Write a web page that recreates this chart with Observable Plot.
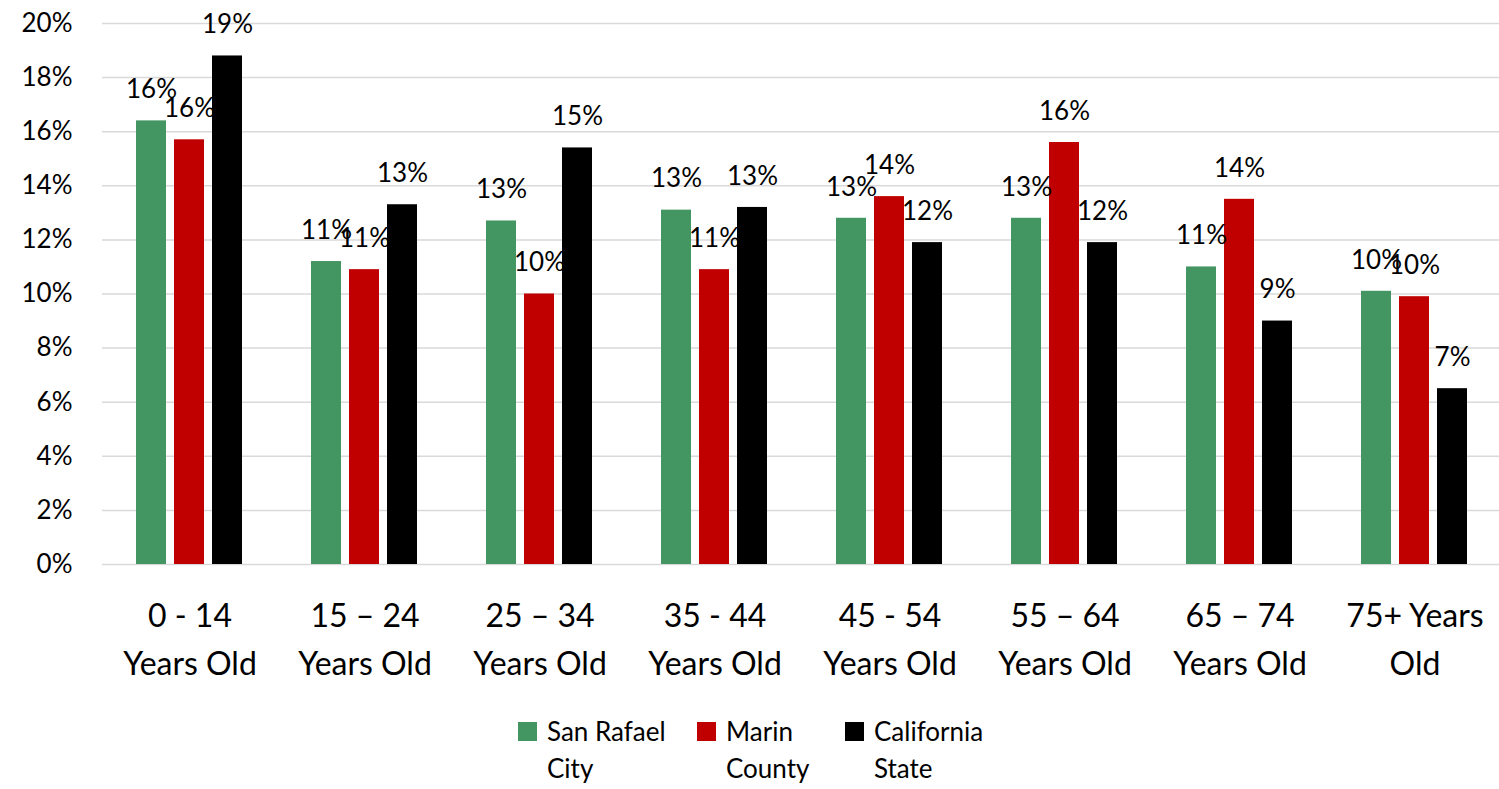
<!DOCTYPE html>
<html>
<head>
<meta charset="utf-8">
<script src="https://cdn.jsdelivr.net/npm/d3@7"></script>
<script src="https://cdn.jsdelivr.net/npm/@observablehq/plot@0.6"></script>
<style>
  html, body { margin: 0; padding: 0; background: #fff; overflow: hidden; }
  body { font-family: Lato, "Noto Sans", sans-serif; width: 1499px; height: 789px; }
  #chart svg { overflow: visible; display: block; }
  .legend { position: absolute; top: 713px; left: 518px; display: flex; font-size: 26px; color: #000; line-height: 37px; }
  .item { display: flex; align-items: flex-start; }
  .sw { width: 19px; height: 19px; margin-top: 9px; margin-right: 10px; flex: none; }
</style>
</head>
<body>
<div id="chart"></div>
<div class="legend" id="legend"></div>
<script>
const categories = ["0 - 14\nYears Old", "15 – 24\nYears Old", "25 – 34\nYears Old", "35 - 44\nYears Old", "45 - 54\nYears Old", "55 – 64\nYears Old", "65 – 74\nYears Old", "75+ Years\nOld"];
const series = ["San Rafael City", "Marin County", "California State"];
const seriesLegend = ["San Rafael<br>City", "Marin<br>County", "California<br>State"];
const colors = ["#439561", "#C00000", "#000000"];
const sanRafael = [16.4, 11.2, 12.7, 13.1, 12.8, 12.8, 11.0, 10.1];
const marin = [15.7, 10.9, 10.0, 10.9, 13.6, 15.6, 13.5, 9.9];
const california = [18.8, 13.3, 15.4, 13.2, 11.9, 11.9, 9.0, 6.5];
const yTicks = [0, 2, 4, 6, 8, 10, 12, 14, 16, 18, 20];

const valuesBySeries = [sanRafael, marin, california];
const data = [];
categories.forEach((c, i) => series.forEach((s, j) => data.push({cat: c, series: s, value: valuesBySeries[j][i]})));

const chart = Plot.plot({
  width: 1499,
  height: 700,
  marginLeft: 98,
  marginRight: -6,
  marginTop: 23,
  marginBottom: 136,
  style: {fontFamily: "Lato, 'Noto Sans', sans-serif", color: "#000", background: "#fff"},
  fx: {domain: categories, padding: 0, label: null},
  x: {domain: series, paddingInner: 0.205, paddingOuter: 0.853, axis: null},
  y: {domain: [0, 20], label: null},
  color: {domain: series, range: colors},
  marks: [
    Plot.gridY({ticks: yTicks, stroke: "#d9d9d9", strokeOpacity: 1, strokeWidth: 1.5}),
    Plot.barY(data, {fx: "cat", x: "series", y: "value", fill: "series"}),
    Plot.text(data, {fx: "cat", x: "series", y: "value", text: d => Math.round(d.value) + "%", dy: -31, fontSize: 26, fill: "#000"}),
    Plot.axisY({ticks: yTicks, tickFormat: d => d + "%", tickSize: 0, tickPadding: 30, fontSize: 26, label: null}),
    Plot.axisFx({anchor: "bottom", tickSize: 0, tickPadding: 28, fontSize: 32, lineHeight: 1.5, label: null})
  ]
});
document.getElementById("chart").appendChild(chart);

const legend = document.getElementById("legend");
const widths = [179, 148, 160];
series.forEach((s, i) => {
  const it = document.createElement("div");
  it.className = "item";
  it.style.width = widths[i] + "px";
  it.innerHTML = `<div class="sw" style="background:${colors[i]}"></div><div>${seriesLegend[i]}</div>`;
  legend.appendChild(it);
});
</script>
</body>
</html>
